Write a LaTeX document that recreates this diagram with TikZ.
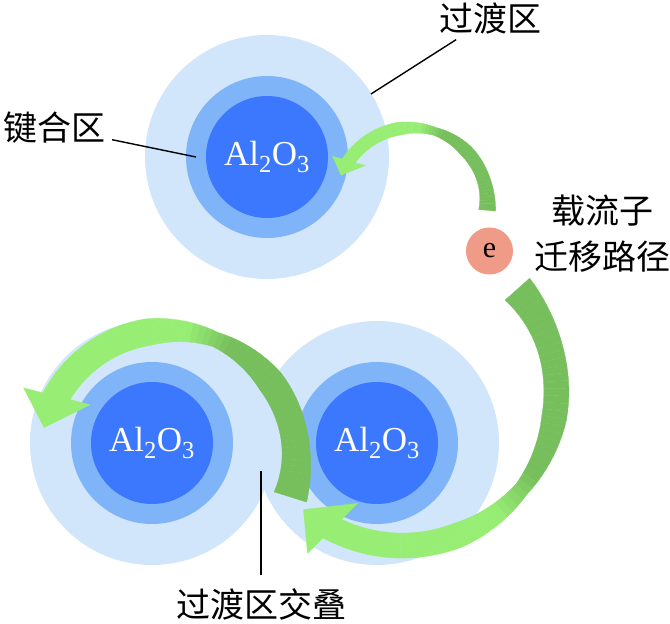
\documentclass[tikz,border=0pt]{standalone}
\usepackage{fontspec}
\setmainfont{Liberation Serif}
\newfontfamily\cjk{Noto Sans CJK SC}

\definecolor{haloblue}{RGB}{209,230,250}
\definecolor{bondblue}{RGB}{128,180,249}
\definecolor{coreblue}{RGB}{60,120,254}
\definecolor{mossgreen}{RGB}{119,191,93}
\definecolor{leafgreen}{RGB}{152,238,116}
\definecolor{salmon}{RGB}{240,155,135}

% curved ribbon arrow: center, radius, start angle, end angle,
% body width, tail flare, middle dip, head half width, tip angle
\newcommand{\ribbonarrow}[9]{%
  \pgfmathsetmacro{\rdir}{ifthenelse(#4>#3,1,-1)}
  \pgfmathsetmacro{\tinner}{#4-8.5*\rdir}
  \foreach \k in {0,...,59}{
    \pgfmathsetmacro{\ta}{#3+(#4-#3)*\k/60}
    \pgfmathsetmacro{\tb}{#3+(#4-#3)*(\k+1)/60}
    \pgfmathsetmacro{\wa}{(#5+#6*max(0,1-5*\k/60)^2-#7*max(0,1-abs(\k/60-0.5)/0.18))/2}
    \pgfmathsetmacro{\wb}{(#5+#6*max(0,1-5*(\k+1)/60)^2-#7*max(0,1-abs((\k+1)/60-0.5)/0.18))/2}
    \pgfmathsetmacro{\mixpct}{min(100,max(0,((\k+0.5)/60-0.46)*833))}
    \filldraw[shift={(#1)}, fill=leafgreen!\mixpct!mossgreen,
      draw=leafgreen!\mixpct!mossgreen, line width=.3pt]
      (\ta:{#2+\wa}) -- (\tb:{#2+\wb}) -- (\tb:{#2-\wb}) -- (\ta:{#2-\wa}) -- cycle;
  }
  \filldraw[shift={(#1)}, fill=leafgreen, draw=leafgreen, line width=.3pt]
    (#4:{#2+#8}) -- (#9:#2) -- (\tinner:{#2-#8}) -- cycle;
}

\tikzset{
  halo/.style={fill=haloblue},
  bond/.style={fill=bondblue},
  core/.style={fill=coreblue},
  oxide/.style={text=white, font=\fontsize{35}{40}\selectfont},
  lbl/.style={font=\cjk\fontsize{34}{46}\selectfont, inner sep=2pt, align=center},
  leader/.style={line width=1.4pt},
}

\begin{document}
\begin{tikzpicture}[x=1pt, y=1pt]
  \useasboundingbox (0,0) rectangle (670,624);

  % particles
  \coordinate (ptop) at (267,467);
  \coordinate (pleft) at (152,181);
  \coordinate (pright) at (377,181);
  \foreach \p in {ptop,pleft,pright}{
    \fill[halo] (\p) circle (122);
    \fill[bond] (\p) circle (81);
    \fill[core] (\p) circle (61);
  }

  % transfer paths
  \coordinate (ctop) at (411.5,420.3);
  \coordinate (cright) at (402.4,232.4);
  \coordinate (cleft) at (168.3,165.5);
  \ribbonarrow{ctop}{76}{-5}{149}{13}{4}{5}{16}{158}
  \ribbonarrow{cright}{154}{41.7}{-120.4}{25}{8}{10}{33.5}{-130}
  \ribbonarrow{cleft}{128}{-17.5}{154}{27}{7}{12}{33}{166}

  \node[oxide] (otop) at (ptop) {Al\textsubscript{2}O\textsubscript{3}};
  \node[oxide] (oleft) at (pleft) {Al\textsubscript{2}O\textsubscript{3}};
  \node[oxide] (oright) at (pright) {Al\textsubscript{2}O\textsubscript{3}};

  \node[circle, fill=salmon, minimum size=47pt, inner sep=0pt,
    font=\fontsize{30}{30}\selectfont] (elec) at (489.5,373) {e};

  % labels
  \node[lbl] (transit) at (490,606) {过渡区};
  \node[lbl] (bonding) at (55,496) {键合区};
  \node[lbl] (carrier) at (602,390) {载流子\\迁移路径};
  \node[lbl] (overlap) at (261,20) {过渡区交叠};

  \coordinate (transitpt) at (371,530);
  \coordinate (bondpt) at (196,467);
  \coordinate (overlappt) at (261,153);
  \draw[leader, shorten <=7pt] (transit) -- (transitpt);
  \draw[leader, shorten <=4pt] (bonding) -- (bondpt);
  \draw[leader, shorten <=11pt] (overlap) -- (overlappt);
\end{tikzpicture}
\end{document}
